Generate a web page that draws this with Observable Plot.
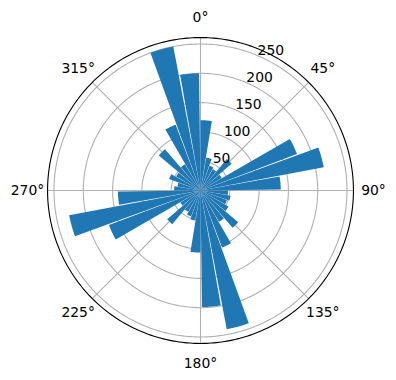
<!DOCTYPE html>
<html>
<head>
<meta charset="utf-8">
<script src="https://cdn.jsdelivr.net/npm/d3@7"></script>
<script src="https://cdn.jsdelivr.net/npm/@observablehq/plot@0.6"></script>
<style>
  body { margin: 0; background: #fff; }
  svg { font-family: "DejaVu Sans", sans-serif; }
</style>
</head>
<body>
<div id="chart"></div>
<script>
// Bin start angles (degrees, clockwise from north), 10° bins
const binStarts = [0,10,20,30,40,50,60,70,80,90,100,110,120,130,140,150,160,170,
                   180,190,200,210,220,230,240,250,260,270,280,290,300,310,320,330,340,350];
// Counts per bin
const counts = [120,57,45,42,70,42,176,214,137,47,52,48,55,84,62,104,241,199,
                106,52,47,42,75,40,167,228,141,45,40,57,48,93,52,120,250,200];
// Angular gridlines and labels
const angleTicks = [0,45,90,135,180,225,270,315];
const angleLabels = ["0°","45°","90°","135°","180°","225°","270°","315°"];
// Radial ticks
const radialTicks = [50,100,150,200,250];
const rMax = 261;

const W = 396, H = 380, cx = 200, cy = 190;
const k = 146.5 / 250; // px per unit
const rad = d => d * Math.PI / 180;
const barWidthDeg = 9.3;

// wedge polygons built from counts
const wedges = [];
binStarts.forEach((a0, i) => {
  const r = counts[i];
  wedges.push({k: i, x: 0, y: 0});
  const n = 20;
  for (let j = 0; j <= n; j++) {
    const a = rad(a0 + barWidthDeg * j / n);
    wedges.push({k: i, x: r * Math.sin(a), y: r * Math.cos(a)});
  }
  wedges.push({k: i, x: 0, y: 0});
});

const circlePts = (r, key) => {
  const pts = [];
  for (let a = 0; a <= 360; a += 1) pts.push({k: key, x: r * Math.sin(rad(a)), y: r * Math.cos(rad(a))});
  return pts;
};
const gridPts = radialTicks.flatMap(r => circlePts(r, r));
const outerPts = circlePts(rMax, "outer");

const labelR = 173 / k;
const fs = 13.9;

const chart = Plot.plot({
  width: W, height: H,
  marginTop: 0, marginRight: 0, marginBottom: 0, marginLeft: 0,
  x: {domain: [-cx / k, (W - cx) / k], range: [0, W], axis: null},
  y: {domain: [-(H - cy) / k, cy / k], range: [H, 0], axis: null},
  marks: [
    Plot.line(gridPts, {x: "x", y: "y", z: "k", stroke: "#b0b0b0", strokeWidth: 1.1}),
    Plot.link(angleTicks, {x1: () => 0, y1: () => 0,
      x2: a => rMax * Math.sin(rad(a)), y2: a => rMax * Math.cos(rad(a)),
      stroke: "#b0b0b0", strokeWidth: 1.1}),
    Plot.line(wedges, {x: "x", y: "y", z: "k", fill: "#1f77b4", stroke: "none", curve: "linear"}),
    Plot.line(outerPts, {x: "x", y: "y", z: "k", stroke: "#000", strokeWidth: 1.1}),
    Plot.text(angleTicks, {
      x: a => labelR * Math.sin(rad(a)), y: a => labelR * Math.cos(rad(a)),
      text: (d, i) => angleLabels[i], fontSize: fs, fill: "#000",
      textAnchor: "middle", lineAnchor: "middle"
    }),
    Plot.text(radialTicks, {
      x: r => r * Math.sin(rad(22.5)), y: r => r * Math.cos(rad(22.5)),
      text: r => String(r), fontSize: fs, fill: "#000",
      textAnchor: "start", lineAnchor: "bottom", dx: 1
    })
  ]
});
document.getElementById("chart").appendChild(chart);
</script>
</body>
</html>
